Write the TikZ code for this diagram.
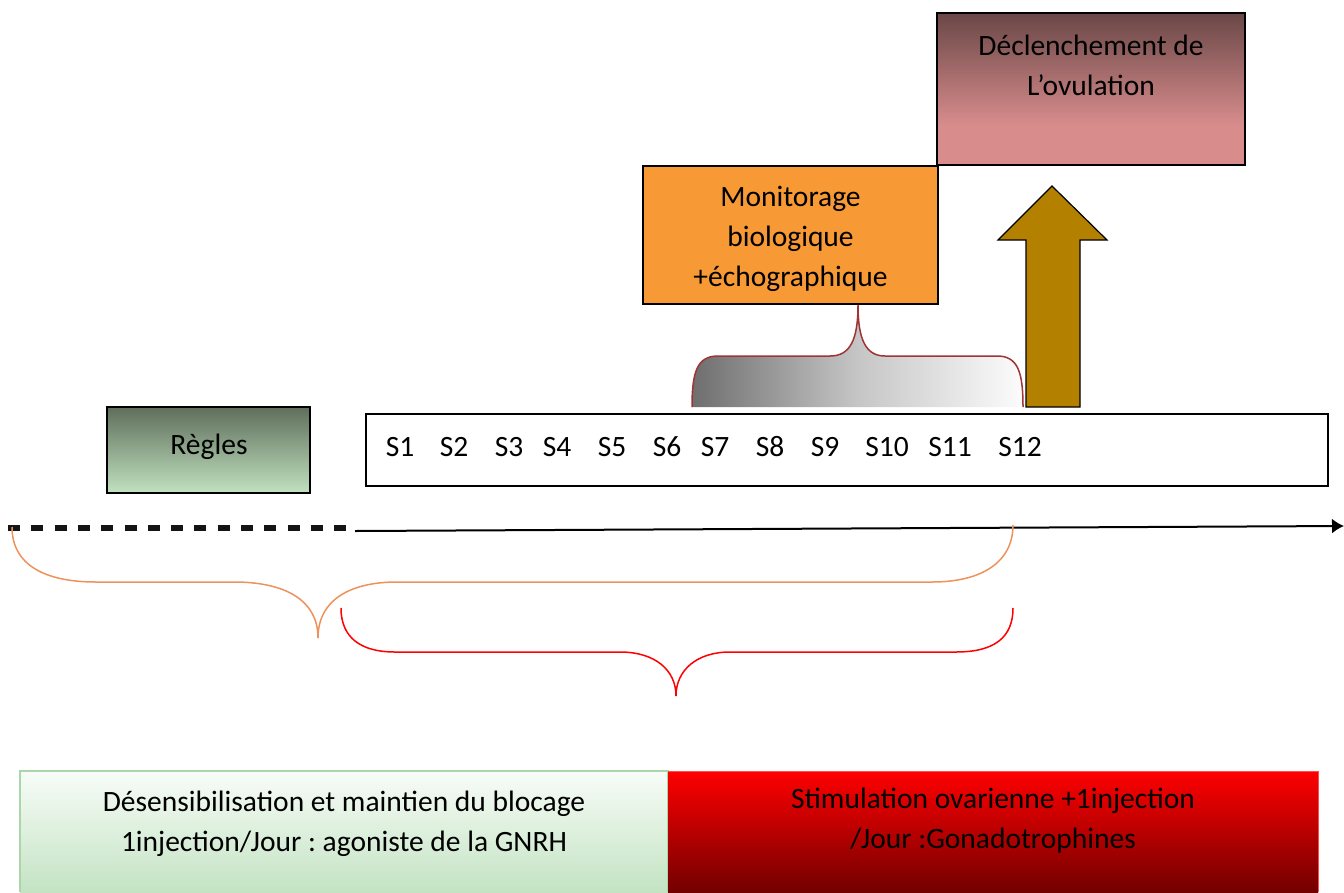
\documentclass[tikz,border=0pt]{standalone}
\usepackage{fontspec}
\setmainfont{Carlito}
\usetikzlibrary{arrows.meta}
\frenchspacing
\definecolor{orangebox}{RGB}{247,154,53}
\definecolor{arrowgold}{RGB}{179,128,0}
\definecolor{bracered}{RGB}{160,52,52}
\definecolor{braceorange}{RGB}{238,146,92}
\definecolor{regtop}{RGB}{95,110,91}
\definecolor{regbot}{RGB}{193,226,192}
\definecolor{dectop}{RGB}{106,71,71}
\definecolor{decbot}{RGB}{216,140,140}
\definecolor{desctop}{RGB}{248,252,248}
\definecolor{descbot}{RGB}{195,227,195}
\definecolor{descborder}{RGB}{169,215,169}
\definecolor{stimtop}{RGB}{255,0,0}
\definecolor{stimbot}{RGB}{114,0,0}
\definecolor{graydark}{RGB}{110,110,110}
\definecolor{graylight}{RGB}{252,252,252}
\tikzset{
  box/.style={draw=black, line width=1.2pt, rectangle, inner sep=0pt},
  txt/.style={font=\fontsize{29.5}{40}\selectfont, align=center, inner sep=0pt},
  slab/.style={font=\fontsize{29.5}{34}\selectfont, inner sep=0pt},
}
\begin{document}
\begin{tikzpicture}[x=1pt,y=-1pt]
\useasboundingbox (0,0) rectangle (1344,892);

% Declenchement box
\fill[decbot] (937,13) rectangle (1245,165);
\shade[top color=dectop, bottom color=decbot] (937,13) rectangle (1245,125);
\node[box, minimum width=308pt, minimum height=152pt] (dec) at (1091,89) {};
\node[txt] (dect) at (1091,65) {Déclenchement de\\L’ovulation};

% Monitorage box
\node[box, fill=orangebox, minimum width=295pt, minimum height=138pt] (mon) at (790.5,235) {};
\node[txt] (mont) at (790.5,239) {Monitorage\\biologique\\+échographique};

% Arrow
\draw[line width=1.2pt, fill=arrowgold, line join=miter]
  (1026,407) -- (1026,240) -- (998,240) -- (1052,186) -- (1107,240) -- (1080,240) -- (1080,407) -- cycle;

% Gray brace
\shade[left color=graydark, right color=graylight, middle color=gray!45]
  (692,407) .. controls (692,372) and (697,356) .. (718,356) -- (830,356)
  .. controls (850,356) and (858,340) .. (858,305)
  .. controls (858,340) and (866,356) .. (885,356) -- (997,356)
  .. controls (1018,356) and (1023,372) .. (1023,407) -- cycle;
\draw[bracered, line width=1.5pt]
  (692,407) .. controls (692,372) and (697,356) .. (718,356) -- (830,356)
  .. controls (850,356) and (858,340) .. (858,305)
  .. controls (858,340) and (866,356) .. (885,356) -- (997,356)
  .. controls (1018,356) and (1023,372) .. (1023,407);

% Regles box
\shade[top color=regtop, bottom color=regbot] (107,407) rectangle (310,493);
\node[box, minimum width=203pt, minimum height=86pt] (reg) at (208.5,450) {};
\node[txt] (regt) at (209,447) {Règles};

% S box
\node[box, minimum width=962pt, minimum height=72pt] (sbox) at (847,450) {};
\foreach \lab/\xx in {S1/400,S2/454,S3/509,S4/557,S5/612,S6/667,S7/715,S8/770,S9/825,S10/887,S11/950,S12/1020}{
  \node[slab] (\lab) at (\xx,447) {\lab};
}

% Time line
\coordinate (dashA) at (8,528);
\coordinate (dashB) at (352,528);
\coordinate (lineA) at (355,531);
\coordinate (lineB) at (1344,526);
\draw[line width=6pt, dash pattern=on 12pt off 11.3pt, color={rgb,255:red,20;green,20;blue,20}] (dashA) -- (dashB);
\draw[line width=2pt, -{Latex[length=12pt,width=15pt]}] (lineA) -- (lineB);

% Orange brace
\draw[braceorange, line width=1.5pt]
  (12,527) .. controls (12,565) and (45,582) .. (96,582) -- (234,582)
  .. controls (285,582) and (318,600) .. (318,638)
  .. controls (318,600) and (350,582) .. (397,582) -- (932,582)
  .. controls (982,582) and (1013,562) .. (1013,525);

% Red brace
\draw[red, line width=1.5pt]
  (341,608) .. controls (341,637) and (360,652) .. (395,652) -- (620,652)
  .. controls (655,652) and (676,670) .. (676,696)
  .. controls (676,670) and (697,652) .. (730,652) -- (956,652)
  .. controls (995,652) and (1013,637) .. (1013,608);

% Bottom boxes
\shade[top color=desctop, bottom color=descbot] (20,771) rectangle (668,892);
\draw[descborder, line width=1.2pt] (20,892) -- (20,771) -- (668,771) -- (668,892);
\node[inner sep=0pt, minimum width=648pt, minimum height=121pt] (desc) at (344,831.5) {};
\node[txt] (desct) at (344,824) {Désensibilisation et maintien du blocage\\1injection/Jour : agoniste de la GNRH};

\shade[top color=stimtop, bottom color=stimbot] (668,771) rectangle (1318,892);
\draw[red!70!white, line width=1pt] (668,771) -- (1318,771) -- (1318,892);
\node[inner sep=0pt, minimum width=650pt, minimum height=121pt] (stim) at (993,831.5) {};
\node[txt] (stimt) at (993,821) {Stimulation ovarienne +1injection\\/Jour :Gonadotrophines};
\end{tikzpicture}
\end{document}
